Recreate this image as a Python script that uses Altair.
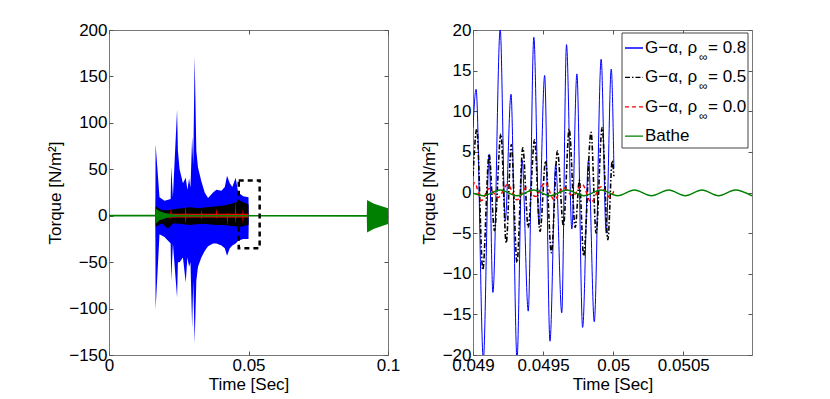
import altair as alt
import pandas as pd

FONT = "Liberation Sans"
FS = 17

# ---------------- Left panel: whole record, envelopes of the dense oscillations ----------------
# G-alpha, rho_inf = 0.8 (blue)
b_t  = [0.0166, 0.0167, 0.0181, 0.0199, 0.0221, 0.0223, 0.0229, 0.0244, 0.0247, 0.0253, 0.0265,
        0.0275, 0.0281, 0.0287, 0.0292, 0.0298, 0.0302, 0.0307, 0.0313, 0.0319, 0.0331, 0.0343,
        0.0355, 0.0373, 0.0385, 0.0403, 0.0415, 0.0423, 0.0433, 0.0442, 0.0454, 0.0463, 0.0481,
        0.0500, 0.0501]
b_hi = [0, 77, 20, 16, 18, 53, 20, 114, 70, 50, 35,
        41, 28, 40, 30, 85, 55, 172, 70, 52, 37, 25,
        19, 25, 28, 27, 31, 43, 35, 31, 41, 25, 21,
        20, 0]
b_lo = [0, -101, -20, -23, -30, -70, -30, -88, -50, -50, -45,
        -72, -45, -55, -50, -121, -70, -137, -70, -55, -45, -38,
        -33, -30, -30, -32, -35, -43, -35, -32, -30, -27, -25,
        -25, 0]

# G-alpha, rho_inf = 0.5 (black)
k_t  = [0.0167, 0.0190, 0.0211, 0.0230, 0.0260, 0.0290, 0.0320, 0.0350, 0.0380, 0.0410, 0.0440, 0.0470, 0.0500]
k_hi = [10, 6, 6, 7, 8, 9, 8, 9, 10, 11, 13, 16, 12]
k_lo = [-12, -8, -14, -8, -9, -10, -9, -9, -10, -10, -11, -12, -10]

# G-alpha, rho_inf = 0.0 (red)
r_t  = [0.0166, 0.0167, 0.0169, 0.0200, 0.0220, 0.0222, 0.0224, 0.0260, 0.0273, 0.0275, 0.0277,
        0.0330, 0.0332, 0.0334, 0.0383, 0.0385, 0.0387, 0.0422, 0.0424, 0.0426, 0.0452, 0.0454,
        0.0456, 0.0478, 0.0480, 0.0482, 0.0500]
r_hi = [0, 20, 2, 2, 2, 8, 2, 2, 2, 11, 2,
        2, 6, 2, 2, 8, 2, 2, 3, 2, 2, 17,
        2, 2, 7, 2, 2]
r_lo = [0, -28, -2, -2, -2, -4, -2, -2, -2, -9, -2,
        -2, -4, -2, -2, -3, -2, -2, -12, -2, -2, -8,
        -2, -2, -9, -2, -2]

# Bathe (green)
g_t  = [0.0, 0.0166, 0.0167, 0.0180, 0.0200, 0.0225, 0.0250, 0.0500, 0.0924, 0.0925, 0.0950, 0.1000]
g_hi = [1.0, 1.0, 8, 5, 3, 1.5, 1.0, 0.9, 0.9, 17, 13, 8]
g_lo = [-0.8, -0.8, -9, -5, -3, -1.5, -1.0, -0.9, -1.1, -18, -14, -9]

# dashed zoom box
box_t = [0.0465, 0.0540]
box_v = [-35, 38]

# ---------------- Right panel: zoom on 0.049 - 0.051 s (extrema) ----------------
zb_t = [0.049000, 0.049022, 0.049074, 0.049115, 0.049142, 0.049194, 0.049230, 0.049271, 0.049314,
        0.049350, 0.049394, 0.049434, 0.049471, 0.049511, 0.049549, 0.049590, 0.049633, 0.049667,
        0.049705, 0.049741, 0.049782, 0.049824, 0.049865, 0.049914, 0.049950, 0.049986, 0.050005]
zb_v = [8, 12.7, -20.5, 4.7, -12.3, 20.1, -3.5, 12.1, -20.5,
        4.0, -14.6, 19.1, -4.0, 14.4, -18.3, 3.5, -14.8, 18.2,
        -4.5, 14.6, -16.6, 4.0, -15.9, 16.4, -5.0, 15.2, 3.0]

zk_t = [0.049000, 0.049027, 0.049070, 0.049115, 0.049153, 0.049199, 0.049237, 0.049273, 0.049314,
        0.049355, 0.049394, 0.049439, 0.049478, 0.049518, 0.049559, 0.049602, 0.049645, 0.049686,
        0.049729, 0.049759, 0.049789, 0.049842, 0.049878, 0.049921, 0.049962, 0.049993, 0.050005]
zk_v = [2, 7.8, -9.5, 4.7, -4.7, 7.2, -6.2, 5.9, -8.6,
        5.5, -4.3, 6.5, -4.8, 3.9, -7.4, 5.1, -4.1, 7.8,
        -4.3, 1.5, -7.8, 7.4, -5.0, 8.0, -5.8, 3.9, 2.0]

zr_t = [0.049000, 0.049011, 0.049061, 0.049115, 0.049180, 0.049247, 0.049313, 0.049380, 0.049446,
        0.049513, 0.049579, 0.049646, 0.049712, 0.049779, 0.049842, 0.049912, 0.049978, 0.050005]
zr_v = [0.8, 1.2, -1.0, 0.5, -0.6, 1.0, -0.9, 0.6, -0.5,
        1.2, -0.9, 0.6, -0.4, 1.0, -1.2, 0.7, -0.6, 0.2]

zg_t = [0.049000, 0.049072, 0.049194, 0.049313, 0.049432, 0.049550, 0.049669, 0.049791, 0.049914,
        0.050032, 0.050151, 0.050273, 0.050396, 0.050514, 0.050633, 0.050752, 0.050871, 0.050990]
zg_v = [-0.1, -0.4, 0.3, -0.4, 0.3, -0.4, 0.3, -0.4, 0.3,
        -0.4, 0.3, -0.4, 0.3, -0.4, 0.3, -0.4, 0.3, -0.4]

series = ["rho08", "rho05", "rho00", "bathe"]
series_colors = ["#0000ff", "#000000", "#ff0000", "#008000"]
series_dash = [[1, 0], [5, 2, 1.5, 2], [4, 3], [1, 0]]
legend_lead = ["G\u2212\u03b1, \u03c1", "G\u2212\u03b1, \u03c1", "G\u2212\u03b1, \u03c1", "Bathe"]
legend_sub = ["\u221e", "\u221e", "\u221e", ""]
legend_tail = ["= 0.8", "= 0.5", "= 0.0", ""]

left_xticks = [0, 0.05, 0.1]
left_yticks = [-150, -100, -50, 0, 50, 100, 150, 200]
right_xticks = [0.049, 0.0495, 0.05, 0.0505]
right_yticks = [-20, -15, -10, -5, 0, 5, 10, 15, 20]

W, H = 279, 325
TICK = 4

TXT = dict(labelFont=FONT, titleFont=FONT, labelFontSize=FS, titleFontSize=FS,
           labelColor="black", titleColor="black", titleFontWeight="normal",
           tickColor="#555555", tickWidth=1)


def band(t, hi, lo):
    return pd.DataFrame({"t": t, "hi": hi, "lo": lo})


def line(t, v):
    return pd.DataFrame({"t": t, "v": v})


def ax_bottom(values):
    return alt.Axis(orient="bottom", values=values, labelExpr="toString(datum.value)",
                    title="Time [Sec]", labelFlush=False, labelOverlap=False, domain=False,
                    grid=False, tickSize=TICK, offset=-TICK, labelPadding=2, titlePadding=3, **TXT)


def ax_left(values):
    return alt.Axis(orient="left", values=values, labelExpr="format(datum.value, 'd')",
                    title="Torque [N/m\u00b2]", labelOverlap=False, domain=False, grid=False,
                    tickSize=TICK, offset=-TICK, labelPadding=2, titlePadding=4, **TXT)


def ax_top(values):
    return alt.Axis(orient="top", values=values, labels=False, title="", domain=False,
                    grid=False, tickSize=TICK, offset=-TICK, tickColor="#555555")


def ax_right(values):
    return alt.Axis(orient="right", values=values, labels=False, title="", domain=False,
                    grid=False, tickSize=TICK, offset=-TICK, tickColor="#555555")


# ---------------- Left panel ----------------
xl = alt.Scale(domain=[0, 0.1], nice=False, zero=False)
yl = alt.Scale(domain=[-150, 200], nice=False, zero=False)

blue_l = alt.Chart(band(b_t, b_hi, b_lo)).mark_area(color=series_colors[0], clip=True).encode(
    x=alt.X("t:Q", scale=xl, axis=ax_bottom(left_xticks)),
    y=alt.Y("hi:Q", scale=yl, axis=ax_left(left_yticks)),
    y2="lo:Q")
black_l = alt.Chart(band(k_t, k_hi, k_lo)).mark_area(color=series_colors[1], clip=True).encode(
    x=alt.X("t:Q", scale=xl, axis=None), y=alt.Y("hi:Q", scale=yl, axis=None), y2="lo:Q")
red_l = alt.Chart(band(r_t, r_hi, r_lo)).mark_area(color=series_colors[2], clip=True).encode(
    x=alt.X("t:Q", scale=xl, axis=None), y=alt.Y("hi:Q", scale=yl, axis=None), y2="lo:Q")
green_l = alt.Chart(band(g_t, g_hi, g_lo)).mark_area(color=series_colors[3], clip=True).encode(
    x=alt.X("t:Q", scale=xl, axis=None), y=alt.Y("hi:Q", scale=yl, axis=None), y2="lo:Q")
box_l = alt.Chart(pd.DataFrame({"t0": [box_t[0]], "t1": [box_t[1]],
                                "v0": [box_v[0]], "v1": [box_v[1]]})).mark_rect(
    fill="transparent", stroke="black", strokeWidth=2.5, strokeDash=[5, 4]).encode(
    x=alt.X("t0:Q", scale=xl, axis=None), x2="t1:Q",
    y=alt.Y("v0:Q", scale=yl, axis=None), y2="v1:Q")
ticks_l = alt.Chart(band(g_t, g_hi, g_lo)).mark_line(opacity=0).encode(
    x=alt.X("t:Q", scale=xl, axis=ax_top(left_xticks)),
    y=alt.Y("hi:Q", scale=yl, axis=ax_right(left_yticks)))

left = alt.layer(blue_l, black_l, red_l, green_l, box_l, ticks_l).resolve_axis(
    x="independent", y="independent").properties(width=W, height=H)

# ---------------- Right panel ----------------
xr = alt.Scale(domain=[0.049, 0.05099], nice=False, zero=False)
yr = alt.Scale(domain=[-20, 20], nice=False, zero=False)

blue_r = alt.Chart(line(zb_t, zb_v)).mark_line(
    color=series_colors[0], strokeWidth=1, interpolate="monotone", clip=True).encode(
    x=alt.X("t:Q", scale=xr, axis=ax_bottom(right_xticks)),
    y=alt.Y("v:Q", scale=yr, axis=ax_left(right_yticks)))
black_r = alt.Chart(line(zk_t, zk_v)).mark_line(
    color=series_colors[1], strokeWidth=1.6, strokeDash=series_dash[1], interpolate="monotone",
    clip=True).encode(
    x=alt.X("t:Q", scale=xr, axis=None), y=alt.Y("v:Q", scale=yr, axis=None))
red_r = alt.Chart(line(zr_t, zr_v)).mark_line(
    color=series_colors[2], strokeWidth=1.5, strokeDash=series_dash[2], interpolate="monotone",
    clip=True).encode(
    x=alt.X("t:Q", scale=xr, axis=None), y=alt.Y("v:Q", scale=yr, axis=None))
green_r = alt.Chart(line(zg_t, zg_v)).mark_line(
    color=series_colors[3], strokeWidth=1.5, interpolate="monotone", clip=True).encode(
    x=alt.X("t:Q", scale=xr, axis=None), y=alt.Y("v:Q", scale=yr, axis=None))
ticks_r = alt.Chart(line(zg_t, zg_v)).mark_line(opacity=0).encode(
    x=alt.X("t:Q", scale=xr, axis=ax_top(right_xticks)),
    y=alt.Y("v:Q", scale=yr, axis=ax_right(right_yticks)))

# legend (drawn inside the plot, top right)
leg_df = pd.DataFrame({"name": series, "lead": legend_lead, "sub": legend_sub, "tail": legend_tail})
leg_base = alt.Chart(leg_df).transform_window(row="row_number()").transform_calculate(
    ly="18 + (datum.row - 1) * 29.4")
leg_frame = alt.Chart(pd.DataFrame({"k": [0]})).mark_rect(
    fill="white", stroke="#444444", strokeWidth=1).encode(
    x=alt.value(149), x2=alt.value(275), y=alt.value(3), y2=alt.value(118))
leg_lines = leg_base.mark_rule(strokeWidth=1.3).encode(
    x=alt.value(152), x2=alt.value(170),
    y=alt.Y("ly:Q", scale=None, axis=None),
    color=alt.Color("name:N", scale=alt.Scale(domain=series, range=series_colors), legend=None),
    strokeDash=alt.StrokeDash("name:N", scale=alt.Scale(domain=series, range=series_dash),
                              legend=None))
leg_lead = leg_base.mark_text(align="left", baseline="middle", font=FONT, fontSize=FS,
                              color="black").encode(
    x=alt.value(172), y=alt.Y("ly:Q", scale=None, axis=None), text="lead:N")
leg_sub = leg_base.mark_text(align="left", baseline="middle", font=FONT, fontSize=12,
                             color="black", dy=9).encode(
    x=alt.value(226), y=alt.Y("ly:Q", scale=None, axis=None), text="sub:N")
leg_tail = leg_base.mark_text(align="left", baseline="middle", font=FONT, fontSize=FS,
                              color="black").encode(
    x=alt.value(235), y=alt.Y("ly:Q", scale=None, axis=None), text="tail:N")

right = alt.layer(blue_r, black_r, red_r, green_r, ticks_r,
                  leg_frame, leg_lines, leg_lead, leg_sub, leg_tail).resolve_axis(
    x="independent", y="independent").properties(width=W, height=H)

chart = alt.hconcat(left, right, spacing=18).properties(
    padding={"left": 38, "top": 12, "right": 5, "bottom": 0},
    background="white",
).configure_axis(**TXT).configure_view(stroke="#777777", strokeWidth=1)

chart.save("out.html", embed_options={"renderer": "svg", "actions": False})
